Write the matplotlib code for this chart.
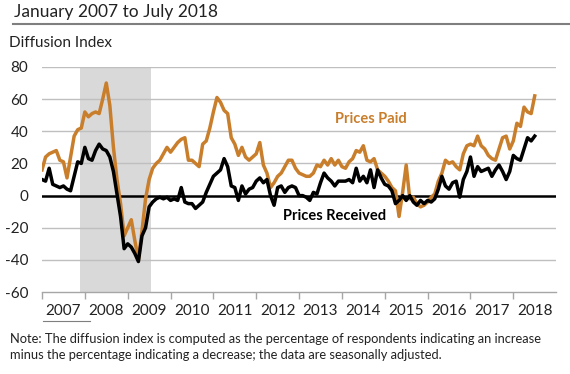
import matplotlib
matplotlib.use("Agg")
import matplotlib.pyplot as plt
import matplotlib.transforms as mtransforms
import numpy as np

plt.rcParams['font.family'] = ['Lato', 'DejaVu Sans']

title = "January 2007 to July 2018"
ylabel = "Diffusion Index"
years = ["2007", "2008", "2009", "2010", "2011", "2012", "2013", "2014", "2015", "2016", "2017", "2018"]
note = ("Note: The diffusion index is computed as the percentage of respondents indicating an increase\n"
        "minus the percentage indicating a decrease; the data are seasonally adjusted.")

# Monthly values, Jan 2007 .. Jul 2018
prices_paid = [
    16, 24, 26, 27, 28, 22, 21, 11, 24, 37, 41, 42,      # 2007
    52, 49, 51, 52, 51, 60, 70, 56, 30, 10, -5, -25,     # 2008
    -20, -15, -28, -40, -22, -2, 10, 17, 20, 22, 26, 30,  # 2009
    27, 30, 33, 35, 36, 22, 22, 20, 18, 32, 34, 42,      # 2010
    52, 61, 58, 53, 51, 36, 32, 25, 30, 24, 22, 24,      # 2011
    26, 33, 19, 14, 5, 8, 12, 14, 18, 22, 22, 17,        # 2012
    14, 13, 12, 12, 14, 19, 18, 22, 19, 23, 19, 22,      # 2013
    18, 17, 21, 23, 28, 27, 31, 22, 21, 23, 16, 14,      # 2014
    12, 9, 5, 3, -13, 2, 19, -2, -1, -5, -7, -6,         # 2015
    -4, -1, 1, 9, 14, 22, 20, 21, 18, 16, 26, 31,        # 2016
    32, 31, 37, 31, 29, 25, 23, 22, 29, 36, 37, 29,      # 2017
    34, 45, 43, 55, 52, 51, 62,                          # 2018
]
prices_received = [
    10, 9, 17, 7, 6, 5, 6, 4, 3, 12, 21, 20,
    30, 23, 22, 28, 32, 29, 28, 24, 15, 1, -13, -33,
    -30, -32, -36, -41, -25, -20, -7, -4, -2, -1, -2, -1,
    -3, -2, -3, 5, -4, -5, -5, -8, -6, -4, 2, 7,
    12, 14, 16, 23, 18, 6, 5, -3, 6, 1, 4, 5,
    9, 11, 8, 10, 0, -6, 5, 6, 2, 5, 6, 5,
    0, 0, -1, -3, 2, 1, 8, 14, 11, 9, 6, 9,
    9, 9, 10, 8, 17, 9, 12, 8, 16, 5, 16, 11,
    7, 6, 3, -5, -3, 0, -3, 0, -4, -6, -3, -5,
    -3, -4, -2, 4, 12, 6, 4, 8, 9, -1, 10, 15,
    24, 12, 18, 15, 16, 17, 12, 16, 19, 15, 10, 15,
    25, 23, 22, 29, 36, 34, 37,
]
recession_start = 10.7   # Dec 2007
recession_end = 30.6     # Jun 2009

months = np.arange(len(prices_paid))

fig = plt.figure(figsize=(5.7, 3.74), dpi=100)
ax = fig.add_axes([0.0737, 0.219, 0.902, 0.602])

ax.axvspan(recession_start, recession_end, color='#D9D9D9', zorder=0, lw=0)
for v in [-40, -20, 20, 40, 60, 80]:
    ax.axhline(v, color='#BFBFBF', lw=1.0, zorder=1)
ax.axhline(0, color='black', lw=1.8, zorder=2)

orange = '#C97E2C'
ax.plot(months, prices_paid, color=orange, lw=2.5, zorder=3, solid_joinstyle='round')
ax.plot(months, prices_received, color='black', lw=2.5, zorder=4, solid_joinstyle='round')

ax.set_xlim(0, 144)
ax.set_ylim(-60, 80)
ax.set_yticks(range(-60, 81, 20))
ax.set_yticklabels([str(v) for v in range(-60, 81, 20)], fontsize=11, color='#222222')
ax.tick_params(axis='y', length=0, pad=10)
ax.set_xticks(np.arange(0, 133, 12))
ax.set_xticklabels([''] * 12)
ax.tick_params(axis='x', which='major', length=5, color='#A6A6A6', width=1)
ax.tick_params(axis='x', which='minor', bottom=False)
for s in ['top', 'right', 'left']:
    ax.spines[s].set_visible(False)
ax.spines['bottom'].set_color('#A6A6A6')
ax.spines['bottom'].set_linewidth(1)

trans = mtransforms.blended_transform_factory(ax.transData, fig.transFigure)
for i, yr in enumerate(years):
    ax.text(i * 12 + 6, 1 - 311/374, yr, transform=trans, fontsize=11, color='#222222',
            ha='center', va='center')

ax.text(92, 47.7, "Prices Paid", color=orange, fontsize=10.5, fontweight='bold', ha='center', va='center')
ax.text(82, -12.7, "Prices Received", color='black', fontsize=10.5, fontweight='bold', ha='center', va='center')

fig.text(14/570, 1 - 12/374, title, fontsize=12.5, ha='left', va='center', color='#222222')
fig.add_artist(plt.Line2D([13/570, 1.0], [1 - 24/374, 1 - 24/374], color='#7F7F7F', lw=1.5))
fig.text(9/570, 1 - 43/374, ylabel, fontsize=11, ha='left', va='center', color='#222222')
fig.add_artist(plt.Line2D([43/570, 90/570], [1 - 321/374, 1 - 321/374], color='#7F7F7F', lw=0.8))
fig.text(10/570, 1 - 347/374, note, fontsize=9.3, ha='left', va='center', color='#222222', linespacing=1.35)

fig.savefig("out.png", dpi=100)
